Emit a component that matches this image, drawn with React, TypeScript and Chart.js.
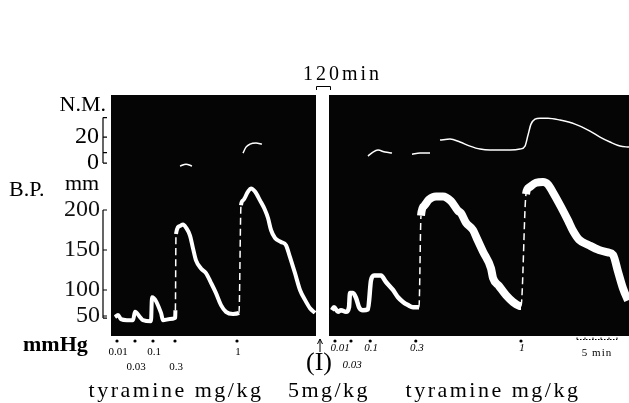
import React, { useEffect, useRef } from 'react';
import { Chart, registerables, LinearScale } from 'chart.js';

Chart.register(...registerables);

// ---------------- data (time in minutes, B.P. in mmHg, N.M. in mm) ----------------
const bpTicks = [50, 100, 150, 200];
const nmTicks = [0, 20];

const bpLeftTime = [0.5, 0.875, 1.25, 2.0, 2.75, 3.0, 3.625, 4.0, 5.0, 5.125, 6.25, 6.5, 7.375, 8.0, 8.05,
  8.125, 8.625, 9.0, 9.375, 9.875, 10.25, 10.625, 11.25, 11.875, 12.5, 13.125, 13.75, 14.375, 15.25, 16.0,
  16.25, 16.5, 17.125, 17.5, 18.0, 18.625, 19.25, 19.625, 20.0, 20.5, 21.25, 21.875, 22.375, 23.0, 23.625,
  24.25, 24.875, 25.5];
const bpLeftValue = [48, 52, 44, 42, 42, 58, 48, 42, 40, 86, 56, 42, 44, 46, 61,
  170, 180, 182, 178, 168, 152, 137, 127, 121, 109, 94, 71, 58, 54, 56,
  206, 212, 223, 227, 223, 212, 200, 190, 175, 165, 160, 156, 141, 121, 100,
  81, 65, 56];

const bpRightTime = [27.625, 27.875, 28.375, 28.75, 29.375, 29.75, 29.875, 30.25, 30.625, 31.0, 31.5, 32.125,
  32.5, 32.875, 33.75, 34.375, 35.25, 35.875, 36.5, 37.125, 37.75, 38.5,
  38.75, 39.125, 39.75, 40.625, 41.5, 42.5, 43.375, 43.75, 44.375, 45.25, 45.75, 46.5, 47.5, 47.75, 48.5,
  49.375, 50.25, 51.25,
  51.875, 52.25, 53.125, 54.0, 54.625, 55.25, 56.25, 57.125, 57.75, 58.5, 59.75, 61.0, 62.125, 62.75,
  63.375, 64.0, 64.625];
const bpRightValue = [61, 67, 58, 61, 58, 67, 94, 94, 85, 67, 61, 63,
  112, 118, 118, 110, 100, 86, 77, 71, 67, 67,
  193, 205, 213, 217, 217, 211, 199, 196, 184, 175, 164, 148, 127, 115, 105,
  90, 77, 69,
  220, 228, 234, 235, 232, 222, 204, 187, 174, 163, 156, 150, 147, 144,
  123, 102, 80];

// N.M. (nictitating membrane) trace; null = pen not visible
const nmTime = [8.625, 9.375, 10.125, 10.2,
  16.5, 16.875, 17.375, 18.125, 18.875, 18.9,
  32.125, 32.75, 33.375, 34.25, 35.125, 35.2,
  37.625, 38.625, 39.875, 39.9,
  41.125, 42.375, 43.625, 44.875, 46.125, 47.375, 48.625, 49.875, 51.125, 51.75, 52.125, 52.5, 53.0,
  53.625, 54.625, 56.125, 58.0, 59.875, 61.125, 62.375, 63.625, 64.75];
const nmValue = [-2.3, -0.8, -2.3, null,
  7.7, 12.3, 14.6, 15.4, 14.6, null,
  5.4, 8.5, 10, 8.5, 7.7, null,
  6.9, 7.7, 7.7, null,
  17.7, 18.5, 16.2, 13.1, 10.8, 10, 10, 10, 10.8, 13.1, 21.5, 30, 33.8,
  34.6, 34.6, 33.1, 30, 24.6, 20, 16.2, 13.1, 12.3];

const doseLabels = ['0.01', '0.03', '0.1', '0.3', '1'];
const leftDoseTime = [0.75, 3.0, 5.25, 8.0, 15.75];
const rightDoseTime = [28.0, 30.0, 32.4, 38.1, 51.25];

const breakStart = 25.625; // 120 min interruption of the record
const breakEnd = 27.25;
const scaleBarStart = 58.25;
const scaleBarMinutes = 5;

// ---------------- mercury manometer scale (non-uniform calibration) ----------------
const bpCalib = [[11.5, 0], [50, 0.083], [100, 0.1909], [200, 0.5228], [343.75, 1]];
function bpToDecimal(v: number) {
  const k = bpCalib;
  if (v <= k[0][0]) return k[0][1] + (v - k[0][0]) * (k[1][1] - k[0][1]) / (k[1][0] - k[0][0]);
  for (let i = 0; i < k.length - 1; i++) {
    if (v <= k[i + 1][0]) return k[i][1] + (v - k[i][0]) * (k[i + 1][1] - k[i][1]) / (k[i + 1][0] - k[i][0]);
  }
  const n = k.length - 1;
  return k[n][1] + (v - k[n][0]) * (k[n][1] - k[n - 1][1]) / (k[n][0] - k[n - 1][0]);
}
function decimalToBp(d: number) {
  const k = bpCalib;
  for (let i = 0; i < k.length - 1; i++) {
    if (d <= k[i + 1][1] || i === k.length - 2) return k[i][0] + (d - k[i][1]) * (k[i + 1][0] - k[i][0]) / (k[i + 1][1] - k[i][1]);
  }
  return k[0][0];
}
class MercuryScale extends LinearScale {
  static id = 'mercury';
  getPixelForValue(value: any) {
    if (value === null || value === undefined || isNaN(value)) return NaN;
    return this.getPixelForDecimal(bpToDecimal(value));
  }
  getValueForPixel(pixel: number) {
    return decimalToBp(this.getDecimalForPixel(pixel));
  }
}
Chart.register(MercuryScale as any);

const SERIF = '"Liberation Serif", "Times New Roman", serif';

export default function App() {
  const ref = useRef<HTMLCanvasElement>(null);
  useEffect(() => {
    const canvas = ref.current!;
    const isRise = (c: any) => c.p1.parsed.y - c.p0.parsed.y > 90 && c.p1.parsed.x - c.p0.parsed.x < 0.7;

    const decor = {
      id: 'decor',
      beforeDraw(chart: any) {
        const ctx = chart.ctx;
        const a = chart.chartArea;
        ctx.save();
        ctx.fillStyle = '#fff';
        ctx.fillRect(0, 0, chart.width, chart.height);
        ctx.fillStyle = '#050505';
        ctx.fillRect(a.left, a.top, a.right - a.left, a.bottom - a.top);
        ctx.restore();
      },
      afterDraw(chart: any) {
        const ctx = chart.ctx;
        const a = chart.chartArea;
        const xs = chart.scales.x, ys = chart.scales.y, nm = chart.scales.nm;
        ctx.save();
        // interruption strip
        const bx0 = xs.getPixelForValue(breakStart), bx1 = xs.getPixelForValue(breakEnd);
        ctx.fillStyle = '#fff';
        ctx.fillRect(bx0, a.top - 6, bx1 - bx0, a.bottom - a.top + 8);
        ctx.strokeStyle = '#000'; ctx.lineWidth = 1;
        ctx.beginPath();
        ctx.moveTo(bx0 + 0.5, a.top - 5); ctx.lineTo(bx0 + 0.5, a.top - 8.5);
        ctx.lineTo(bx1 + 1.5, a.top - 8.5); ctx.lineTo(bx1 + 1.5, a.top - 5);
        ctx.stroke();
        ctx.fillStyle = '#000';
        ctx.textBaseline = 'middle';
        ctx.textAlign = 'left';
        ctx.font = `20px ${SERIF}`;
        (ctx as any).letterSpacing = '3px';
        ctx.fillText('120min', bx0 - 13, a.top - 20);
        (ctx as any).letterSpacing = '0px';

        // arrow at restart
        const ax = bx0 + 4;
        ctx.beginPath();
        ctx.moveTo(ax, a.bottom + 16); ctx.lineTo(ax, a.bottom + 3);
        ctx.stroke();
        ctx.beginPath();
        ctx.moveTo(ax - 2.5, a.bottom + 8); ctx.lineTo(ax, a.bottom + 3); ctx.lineTo(ax + 2.5, a.bottom + 8);
        ctx.stroke();

        // left axis brackets
        const bxL = a.left - 8;
        ctx.lineWidth = 1.2;
        ctx.beginPath();
        ctx.moveTo(bxL, ys.getPixelForValue(200)); ctx.lineTo(bxL, ys.getPixelForValue(46));
        [200, 150, 100, 50, 46].forEach((v) => { const p = ys.getPixelForValue(v); ctx.moveTo(bxL, p); ctx.lineTo(bxL + 4, p); });
        ctx.moveTo(bxL, nm.getPixelForValue(35)); ctx.lineTo(bxL, nm.getPixelForValue(0));
        [35, 20, 8, 0].forEach((v) => { const p = nm.getPixelForValue(v); ctx.moveTo(bxL, p); ctx.lineTo(bxL + 4, p); });
        ctx.stroke();

        ctx.textAlign = 'right';
        ctx.font = `24px ${SERIF}`;
        nmTicks.forEach((v) => ctx.fillText(String(v), a.left - 12, nm.getPixelForValue(v)));

        ctx.font = `22px ${SERIF}`;
        ctx.fillText('N.M.', a.left - 5, a.top + 10);
        ctx.textAlign = 'left';
        ctx.fillText('B.P.', 9, 190);
        ctx.fillText('mm', 65, 184);
        ctx.font = `bold 22px ${SERIF}`;
        ctx.fillText('mmHg', 23, 345);

        // dose marks
        const dotY = a.bottom + 5;
        const rowL = [a.bottom + 16, a.bottom + 31, a.bottom + 16, a.bottom + 31, a.bottom + 16];
        const rowR = [a.bottom + 12, a.bottom + 29, a.bottom + 12, a.bottom + 12, a.bottom + 12];
        ctx.textAlign = 'center';
        leftDoseTime.forEach((t, i) => {
          const px = xs.getPixelForValue(t);
          ctx.beginPath(); ctx.arc(px, dotY, 1.6, 0, Math.PI * 2); ctx.fill();
          ctx.font = `11px ${SERIF}`;
          ctx.fillText(doseLabels[i], px + 1, rowL[i]);
        });
        rightDoseTime.forEach((t, i) => {
          const px = xs.getPixelForValue(t);
          ctx.beginPath(); ctx.arc(px, dotY, 1.6, 0, Math.PI * 2); ctx.fill();
          ctx.font = `italic 11px ${SERIF}`;
          ctx.fillText(doseLabels[i], px + (i === 0 ? 5 : 1), rowR[i]);
        });

        // 5 min scale bar
        const s0 = xs.getPixelForValue(scaleBarStart), s1 = xs.getPixelForValue(scaleBarStart + scaleBarMinutes);
        ctx.lineWidth = 1;
        ctx.setLineDash([1.5, 1.5]);
        ctx.beginPath(); ctx.moveTo(s0, a.bottom + 3.5); ctx.lineTo(s1, a.bottom + 3.5); ctx.stroke();
        ctx.setLineDash([]);
        ctx.beginPath();
        for (let m = 0; m <= scaleBarMinutes; m++) {
          const p = xs.getPixelForValue(scaleBarStart + m);
          ctx.moveTo(p, a.bottom + 3.5); ctx.lineTo(p, a.bottom + 1.5);
        }
        ctx.stroke();
        ctx.font = `11px ${SERIF}`;
        (ctx as any).letterSpacing = '1px';
        ctx.fillText('5 min', (s0 + s1) / 2, a.bottom + 17);

        // drug labels
        ctx.font = `26px ${SERIF}`;
        (ctx as any).letterSpacing = '0px';
        ctx.fillText('(I)', bx0 + 3, a.bottom + 27);
        ctx.font = `22px ${SERIF}`;
        (ctx as any).letterSpacing = '2.5px';
        ctx.fillText('tyramine mg/kg', 176, 391);
        ctx.fillText('5mg/kg', 329, 391);
        ctx.fillText('tyramine mg/kg', 493, 391);
        ctx.restore();
      },
    };

    const chart = new Chart(canvas, {
      type: 'line',
      data: {
        datasets: [
          {
            label: 'B.P. before',
            yAxisID: 'y',
            data: bpLeftTime.map((t, i) => ({ x: t, y: bpLeftValue[i] })),
            borderColor: '#fff',
            borderWidth: 4,
            pointRadius: 0,
            cubicInterpolationMode: 'monotone',
            segment: {
              borderWidth: (c: any) => (isRise(c) ? 1.5 : undefined),
              borderDash: (c: any) => (isRise(c) ? [7, 4] : undefined),
            },
          },
          {
            label: 'B.P. after',
            yAxisID: 'y',
            data: bpRightTime.map((t, i) => ({ x: t, y: bpRightValue[i] })),
            borderColor: '#fff',
            borderWidth: 4.5,
            pointRadius: 0,
            cubicInterpolationMode: 'monotone',
            segment: {
              borderWidth: (c: any) => (isRise(c) ? 1.5 : c.p0.parsed.x >= 38.5 ? 8 : 4.5),
              borderDash: (c: any) => (isRise(c) ? [7, 4] : undefined),
            },
          },
          {
            label: 'N.M.',
            yAxisID: 'nm',
            data: nmTime.map((t, i) => ({ x: t, y: nmValue[i] })),
            borderColor: '#fff',
            borderWidth: 1.5,
            pointRadius: 0,
            spanGaps: false,
            cubicInterpolationMode: 'monotone',
          },
        ],
      } as any,
      options: {
        animation: false,
        responsive: false,
        events: [],
        layout: { padding: { top: 95, bottom: 67, left: 0, right: 0 } },
        plugins: { legend: { display: false }, tooltip: { enabled: false } },
        scales: {
          x: { type: 'linear', min: 0, max: 64.75, display: false },
          y: {
            type: 'mercury',
            position: 'left',
            min: 11.5,
            max: 343.75,
            grid: { display: false, drawTicks: false },
            border: { display: false },
            ticks: {
              autoSkip: false,
              padding: 11,
              color: '#111',
              font: { family: SERIF, size: 24 },
              callback: (v: any) => String(v),
            },
            afterBuildTicks: (s: any) => { s.ticks = bpTicks.map((v) => ({ value: v })); },
            afterFit: (s: any) => { s.width = 111; },
          },
          nm: { type: 'linear', position: 'left', min: -133, max: 52.4, display: false },
        } as any,
      },
      plugins: [decor],
    });
    return () => chart.destroy();
  }, []);

  return (
    <div style={{ position: 'fixed', left: 0, top: 0, width: 629, height: 403, background: '#fff' }}>
      <canvas ref={ref} width={629} height={403} style={{ display: 'block' }} />
    </div>
  );
}
